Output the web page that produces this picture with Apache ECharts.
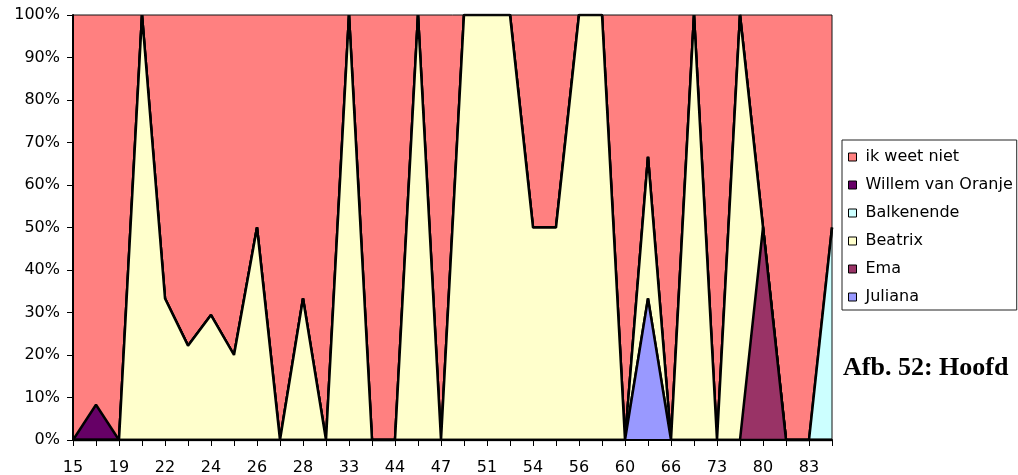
<!DOCTYPE html>
<html>
<head>
<meta charset="utf-8">
<title>Afb. 52: Hoofd</title>
<script src="https://cdn.jsdelivr.net/npm/echarts@6/dist/echarts.min.js"></script>
<style>
  html, body { margin: 0; padding: 0; background: #fff; }
  #chart { width: 1018px; height: 475px; }
</style>
</head>
<body>
<div id="chart"></div>
<script>
// leeftijden (elke tweede staat als label op de as)
const ages = [
  "15", "17", "19", "20", "22", "23", "24", "25", "26", "27", "28", "30",
  "33", "35", "44", "46", "47", "49", "51", "53", "54", "55", "56", "58",
  "60", "63", "66", "70", "73", "77", "80", "82", "83", "85",
];

// percentages per leeftijd
const juliana = [
  0, 0, 0, 0, 0, 0, 0, 0, 0, 0, 0, 0, 0, 0, 0, 0, 0,
  0, 0, 0, 0, 0, 0, 0, 0, 33.3, 0, 0, 0, 0, 0, 0, 0, 0,
];
const ema = [
  0, 0, 0, 0, 0, 0, 0, 0, 0, 0, 0, 0, 0, 0, 0, 0, 0,
  0, 0, 0, 0, 0, 0, 0, 0, 0, 0, 0, 0, 0, 50, 0, 0, 0,
];
const beatrix = [
  0, 0, 0, 100, 33.3, 22.2, 29.4, 20, 50, 0, 33.3, 0, 100, 0, 0, 100, 0,
  100, 100, 100, 50, 50, 100, 100, 0, 33.3, 0, 100, 0, 100, 0, 0, 0, 0,
];
const balkenende = [
  0, 0, 0, 0, 0, 0, 0, 0, 0, 0, 0, 0, 0, 0, 0, 0, 0,
  0, 0, 0, 0, 0, 0, 0, 0, 0, 0, 0, 0, 0, 0, 0, 0, 50,
];
const willem = [
  0, 8.3, 0, 0, 0, 0, 0, 0, 0, 0, 0, 0, 0, 0, 0, 0, 0,
  0, 0, 0, 0, 0, 0, 0, 0, 0, 0, 0, 0, 0, 0, 0, 0, 0,
];
const ikWeetNiet = [
  100, 91.7, 100, 0, 66.7, 77.8, 70.6, 80, 50, 100, 66.7, 100, 0, 100, 100, 0, 100,
  0, 0, 0, 50, 50, 0, 0, 100, 33.4, 100, 0, 100, 0, 50, 100, 100, 50,
];

const legendOrder = ["ik weet niet", "Willem van Oranje", "Balkenende", "Beatrix", "Ema", "Juliana"];
const percentTicks = [0, 10, 20, 30, 40, 50, 60, 70, 80, 90, 100];

const font = "DejaVu Sans";

function areaSeries(name, data, color, z, lineWidth) {
  return {
    name,
    type: "line",
    stack: "totaal",
    data,
    z,
    symbol: "none",
    showSymbol: false,
    lineStyle: { color: "#000", width: lineWidth },
    itemStyle: { color },
    areaStyle: { color, opacity: 1 },
  };
}

const chart = echarts.init(document.getElementById("chart"));
chart.setOption({
  animation: false,
  title: {
    text: "Afb. 52: Hoofd",
    left: 843,
    top: 355,
    padding: 0,
    textStyle: { fontFamily: "Liberation Serif", fontWeight: "bold", fontSize: 26, color: "#000" },
  },
  legend: {
    orient: "vertical",
    left: 842,
    top: 140,
    data: legendOrder,
    icon: "rect",
    itemWidth: 8,
    itemHeight: 8,
    itemGap: 12,
    padding: [9, 4, 5, 6],
    borderColor: "#222",
    borderWidth: 1,
    itemStyle: { borderColor: "#000", borderWidth: 1 },
    textStyle: { fontFamily: font, fontSize: 16, lineHeight: 16, color: "#000", padding: [0, 0, 0, 4] },
  },
  grid: {
    left: 73,
    right: 186,
    top: 15,
    bottom: 35,
    outerBoundsMode: "none",
    containLabel: false,
    show: true,
    z: 10,
    borderColor: "#111",
    borderWidth: 1,
    backgroundColor: "transparent",
  },
  xAxis: {
    type: "category",
    data: ages,
    boundaryGap: false,
    z: 10,
    axisLine: { lineStyle: { color: "#000", width: 2 } },
    axisTick: { show: true, interval: 0, length: 6, lineStyle: { color: "#000", width: 1 } },
    axisLabel: { interval: 1, margin: 20, fontFamily: font, fontSize: 16, color: "#000" },
    splitLine: { show: false },
  },
  yAxis: {
    type: "value",
    min: 0,
    max: 100,
    interval: 10,
    z: 10,
    axisLine: { show: true, lineStyle: { color: "#000", width: 2 } },
    axisTick: { show: true, length: 6, lineStyle: { color: "#000", width: 1 } },
    axisLabel: {
      margin: 13,
      fontFamily: font,
      fontSize: 16,
      color: "#000",
      formatter: (v) => (percentTicks.includes(v) ? v + "%" : ""),
    },
    splitLine: { show: false },
  },
  series: [
    areaSeries("Juliana", juliana, "#9999FF", 8, 2.5),
    areaSeries("Ema", ema, "#993366", 7, 2.5),
    areaSeries("Beatrix", beatrix, "#FFFFCC", 6, 2.5),
    areaSeries("Balkenende", balkenende, "#CCFFFF", 5, 2.5),
    areaSeries("Willem van Oranje", willem, "#660066", 4, 2.5),
    areaSeries("ik weet niet", ikWeetNiet, "#FF8080", 3, 0),
  ],
});
</script>
</body>
</html>
